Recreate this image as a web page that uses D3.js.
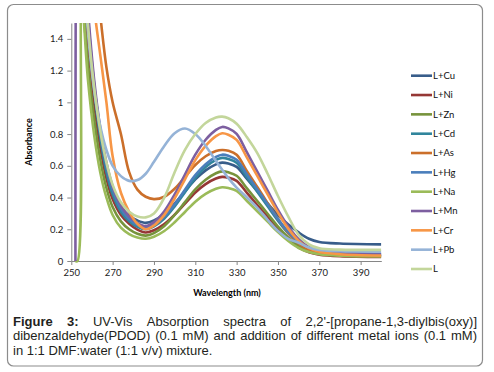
<!DOCTYPE html>
<html>
<head>
<meta charset="utf-8">
<script src="https://cdn.jsdelivr.net/npm/d3@7"></script>
<style>
  body { margin: 0; background: #fff; }
  svg { display: block; }
</style>
</head>
<body>
<div id="chart"></div>
<script>
// wavelength grid (nm)
const wavelengths = [252, 253, 255, 258, 261, 264, 267, 270, 274, 278, 282, 286, 290, 295, 300, 305, 310, 315, 320, 323, 326, 330, 335, 340, 345, 350, 355, 360, 365, 370, 380, 400];

// absorbance per series
const cu = [3.0, 2.7, 2.0, 1.45, 1.05, 0.77, 0.56, 0.44, 0.34, 0.285, 0.255, 0.24, 0.255, 0.297, 0.362, 0.438, 0.514, 0.571, 0.609, 0.62, 0.614, 0.593, 0.517, 0.44, 0.363, 0.29, 0.23, 0.18, 0.14, 0.12, 0.11, 0.105];
const ni = [3.0, 2.7, 2.0, 1.4, 1.0, 0.72, 0.52, 0.39, 0.29, 0.235, 0.198, 0.18, 0.194, 0.233, 0.292, 0.362, 0.432, 0.485, 0.52, 0.53, 0.525, 0.505, 0.429, 0.353, 0.278, 0.202, 0.136, 0.086, 0.055, 0.04, 0.03, 0.025];
const zn = [2.6, 2.3, 1.75, 1.25, 0.9, 0.64, 0.46, 0.34, 0.25, 0.2, 0.172, 0.16, 0.176, 0.221, 0.29, 0.371, 0.452, 0.512, 0.553, 0.565, 0.559, 0.537, 0.458, 0.378, 0.298, 0.217, 0.148, 0.094, 0.062, 0.046, 0.035, 0.03];
const cd = [3.0, 2.8, 2.1, 1.5, 1.08, 0.78, 0.56, 0.42, 0.31, 0.25, 0.215, 0.2, 0.218, 0.268, 0.344, 0.434, 0.524, 0.592, 0.637, 0.65, 0.643, 0.619, 0.528, 0.437, 0.345, 0.254, 0.174, 0.113, 0.077, 0.058, 0.046, 0.04];
const as = [3.0, 3.0, 3.0, 2.4, 1.9, 1.55, 1.22, 1.0, 0.8, 0.56, 0.45, 0.405, 0.39, 0.405, 0.455, 0.53, 0.605, 0.66, 0.693, 0.70, 0.695, 0.67, 0.566, 0.466, 0.365, 0.265, 0.177, 0.11, 0.07, 0.05, 0.037, 0.03];
const hg = [3.0, 2.8, 2.15, 1.55, 1.12, 0.82, 0.6, 0.45, 0.33, 0.265, 0.227, 0.21, 0.228, 0.279, 0.357, 0.449, 0.541, 0.61, 0.656, 0.67, 0.663, 0.638, 0.545, 0.451, 0.358, 0.264, 0.183, 0.12, 0.083, 0.064, 0.051, 0.045];
const na = [0, 0, 1.65, 1.15, 0.8, 0.56, 0.4, 0.29, 0.21, 0.17, 0.148, 0.14, 0.153, 0.189, 0.244, 0.309, 0.374, 0.423, 0.455, 0.465, 0.46, 0.442, 0.378, 0.313, 0.248, 0.182, 0.126, 0.082, 0.056, 0.043, 0.034, 0.03];
const mn = [0, 3.0, 2.3, 1.6, 1.15, 0.84, 0.62, 0.47, 0.35, 0.28, 0.24, 0.22, 0.245, 0.314, 0.42, 0.545, 0.67, 0.764, 0.826, 0.845, 0.836, 0.801, 0.684, 0.563, 0.443, 0.322, 0.217, 0.137, 0.088, 0.064, 0.048, 0.04];
const cr = [3.0, 3.0, 2.6, 2.0, 1.6, 1.3, 1.0, 0.66, 0.43, 0.31, 0.235, 0.2, 0.224, 0.291, 0.394, 0.515, 0.636, 0.726, 0.787, 0.805, 0.796, 0.763, 0.651, 0.536, 0.42, 0.305, 0.204, 0.127, 0.081, 0.058, 0.043, 0.035];
const pb = [3.0, 2.7, 2.0, 1.45, 1.08, 0.85, 0.7, 0.6, 0.535, 0.505, 0.51, 0.55, 0.625, 0.725, 0.805, 0.835, 0.8, 0.725, 0.63, 0.575, 0.522, 0.462, 0.40, 0.335, 0.26, 0.19, 0.14, 0.115, 0.085, 0.07, 0.062, 0.06];
const lig = [3.0, 2.8, 2.1, 1.5, 1.1, 0.82, 0.62, 0.48, 0.37, 0.31, 0.28, 0.275, 0.3, 0.4, 0.56, 0.7, 0.8, 0.87, 0.905, 0.91, 0.9, 0.865, 0.78, 0.68, 0.55, 0.41, 0.28, 0.165, 0.105, 0.08, 0.072, 0.07];

const seriesNames = ["L+Cu", "L+Ni", "L+Zn", "L+Cd", "L+As", "L+Hg", "L+Na", "L+Mn", "L+Cr", "L+Pb", "L"];
const seriesValues = [cu, ni, zn, cd, as, hg, na, mn, cr, pb, lig];
const seriesColors = ["#385D8A", "#953735", "#77933C", "#31859C", "#CB6F2A", "#4A7EBB", "#9BBB59", "#7D5FA0", "#F79646", "#95B3D7", "#C3D69B"];

const xTicks = [250, 270, 290, 310, 330, 350, 370, 390];
const yTicks = [0, 0.2, 0.4, 0.6, 0.8, 1, 1.2, 1.4];

const captionLines = [
    ["Figure 3:", "UV-Vis Absorption spectra of 2,2'-[propane-1,3-diylbis(oxy)]"],
    ["", "dibenzaldehyde(PDOD) (0.1 mM) and addition of different metal ions (0.1 mM)"],
    ["", "in 1:1 DMF:water (1:1 v/v) mixture."]
];

const width = 494, height = 372;
const plot = { left: 71.3, right: 381.3, top: 23, bottom: 261 };

const svg = d3.select("#chart").append("svg").attr("width", width).attr("height", height);

// outer frame
svg.append("rect")
    .attr("x", 7.5).attr("y", 4.5)
    .attr("width", 475).attr("height", 361.5)
    .attr("rx", 6)
    .attr("fill", "none")
    .attr("stroke", "#8c8c8c")
    .attr("stroke-width", 1.2);

const x = d3.scaleLinear().domain([250, 400]).range([plot.left, plot.right]);
const y = d3.scaleLinear().domain([0, 1.5]).range([plot.bottom, plot.top]);

svg.append("clipPath").attr("id", "clip")
    .append("rect")
    .attr("x", plot.left).attr("y", plot.top)
    .attr("width", plot.right - plot.left).attr("height", plot.bottom - plot.top + 2);

// axes
const xAxis = svg.append("g")
    .attr("transform", `translate(0,${plot.bottom})`)
    .call(d3.axisBottom(x).tickValues(xTicks).tickSize(4).tickSizeOuter(0).tickPadding(4));
const yAxis = svg.append("g")
    .attr("transform", `translate(${plot.left},0)`)
    .call(d3.axisLeft(y).tickValues(yTicks).tickSize(4).tickSizeOuter(0).tickPadding(4)
        .tickFormat(d => d3.format("")(+d.toFixed(1))));

[xAxis, yAxis].forEach(a => {
    a.select(".domain").attr("stroke", "#868686");
    a.selectAll(".tick line").attr("stroke", "#868686");
    a.selectAll(".tick text")
        .attr("fill", "#222")
        .style("font-family", "Lato, 'Liberation Sans', sans-serif")
        .style("font-size", "9.5px");
});

// spectra
const line = d3.line()
    .x((d, i) => x(wavelengths[i]))
    .y(d => y(d))
    .curve(d3.curveCatmullRom.alpha(0.5));

svg.append("g").attr("clip-path", "url(#clip)")
    .selectAll("path")
    .data(seriesValues)
    .enter()
    .append("path")
    .attr("d", d => line(d))
    .attr("fill", "none")
    .attr("stroke", (d, i) => seriesColors[i])
    .attr("stroke-width", 2.6)
    .attr("stroke-linejoin", "round");

// axis titles
svg.append("text")
    .attr("transform", "translate(32,142) rotate(-90)")
    .attr("text-anchor", "middle")
    .style("font-family", "Lato, 'Liberation Sans', sans-serif")
    .style("font-size", "9px")
    .style("font-weight", "bold")
    .text("Absorbance");

svg.append("text")
    .attr("x", 227).attr("y", 296)
    .attr("text-anchor", "middle")
    .style("font-family", "Lato, 'Liberation Sans', sans-serif")
    .style("font-size", "9px")
    .style("font-weight", "bold")
    .text("Wavelength (nm)");

// legend
const legend = svg.append("g")
    .selectAll("g")
    .data(seriesNames)
    .enter()
    .append("g")
    .attr("transform", (d, i) => `translate(411,${75.7 + i * 19.33})`);

legend.append("line")
    .attr("x1", 0).attr("x2", 21)
    .attr("stroke", (d, i) => seriesColors[i])
    .attr("stroke-width", 2.6);

legend.append("text")
    .attr("x", 22).attr("y", 3.3)
    .style("font-family", "Lato, 'Liberation Sans', sans-serif")
    .style("font-size", "9.5px")
    .attr("fill", "#111")
    .text(d => d);

// caption, justified like the source
const capLeft = 13, capRight = 477, capY = [325.5, 340, 354.5];
captionLines.forEach((ln, li) => {
    const words = [];
    ln[0].split(" ").filter(w => w).forEach(w => words.push({ t: w, bold: true }));
    ln[1].split(" ").filter(w => w).forEach(w => words.push({ t: w, bold: false }));
    const texts = words.map(w => svg.append("text")
        .attr("y", capY[li])
        .style("font-family", "'Liberation Sans', Arial, sans-serif")
        .style("font-size", "13px")
        .style("font-weight", w.bold ? "bold" : "normal")
        .attr("fill", "#231f20")
        .text(w.t));
    const widths = texts.map(t => t.node().getComputedTextLength());
    const total = d3.sum(widths);
    const justify = li < captionLines.length - 1;
    const gap = justify ? (capRight - capLeft - total) / (words.length - 1) : 3.6;
    let cx = capLeft;
    texts.forEach((t, i) => {
        t.attr("x", cx);
        cx += widths[i] + gap;
    });
});
</script>
</body>
</html>
